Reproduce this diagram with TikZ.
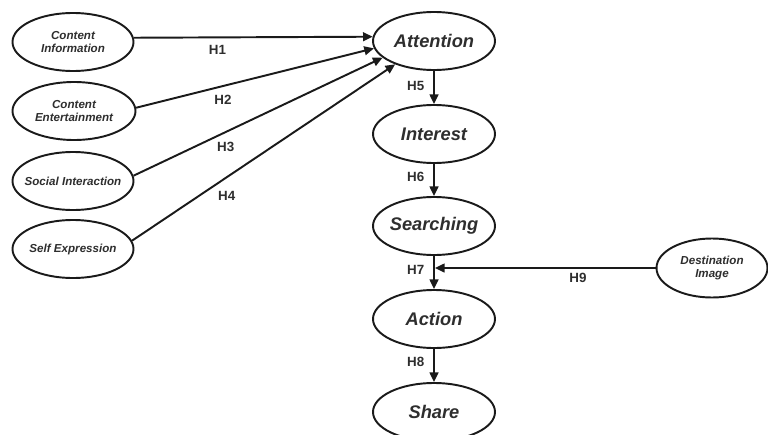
\documentclass[tikz,border=0pt]{standalone}
\usepackage{fontspec}
\setmainfont{Liberation Sans}
\usepackage{xcolor}
\usetikzlibrary{arrows.meta,positioning,shapes.geometric}
\definecolor{ink}{HTML}{1A1A1A}
\definecolor{txt}{HTML}{2E2E2E}

\begin{document}
\begin{tikzpicture}[
      var/.style={ellipse,draw=ink,line width=1.1pt,fill=white,
                  inner xsep=-8pt,inner ysep=0pt,
                  minimum width=2.42cm,minimum height=1.16cm,
                  font=\fontsize{6.6}{7.4}\selectfont\bfseries\itshape,
                  text=txt,align=center},
      stage/.style={var,minimum width=2.44cm,
                  font=\fontsize{10.4}{12}\selectfont\bfseries\itshape},
      arrow/.style={-{Triangle[length=5.5pt,width=5pt]},line width=1.1pt,ink},
      lbl/.style={font=\fontsize{7.6}{9}\selectfont\bfseries,text=txt,inner sep=0pt}
    ]
    \useasboundingbox (0,0) rectangle (15.36,8.68);

    % social media content
    \node[var] (info)  at (1.46,7.84) {Content\\Information};
    \node[var,minimum width=2.46cm] (enter) at (1.48,6.46) {Content\\Entertainment};
    \node[var] (social) at (1.46,5.06) {Social Interaction};
    \node[var] (self)  at (1.46,3.70) {Self Expression};

    % AISAS stages
    \node[stage] (att)  at (8.68,7.86) {Attention};
    \node[stage] (int)  at (8.68,6.00) {Interest};
    \node[stage] (sea)  at (8.68,4.16) {Searching};
    \node[stage] (act)  at (8.68,2.30) {Action};
    \node[stage] (shr)  at (8.68,0.44) {Share};

    % moderator
    \node[var,minimum width=2.22cm,minimum height=1.18cm] (dest) at (14.24,3.32)
          {Destination\\Image};
    \coordinate (mid) at (sea |- dest);

    % arrows
    \draw[arrow] (info.4)   -- node[lbl,pos=0.35,below=4pt]{H1} (att.176);
    \draw[arrow] (enter.3)  -- node[lbl,pos=0.365,below=4.7pt]{H2} (att.187);
    \draw[arrow] (social.5) -- node[lbl,pos=0.37,below=5.2pt]{H3} (att.198);
    \draw[arrow] (self.8)   -- node[lbl,pos=0.36,below=7.5pt]{H4} (att.211);
    \draw[arrow] (att) -- node[lbl,pos=0.45,left=5pt]{H5} (int);
    \draw[arrow] (int) -- node[lbl,pos=0.41,left=5pt]{H6} (sea);
    \draw[arrow] (sea) -- node[lbl,pos=0.41,left=5pt]{H7} (act);
    \draw[arrow] (act) -- node[lbl,pos=0.4,left=5pt]{H8} (shr);
    \draw[arrow,shorten >=0.55pt] (dest) -- node[lbl,pos=0.35,below=2.5pt]{H9} (mid);

  \end{tikzpicture}
\end{document}
